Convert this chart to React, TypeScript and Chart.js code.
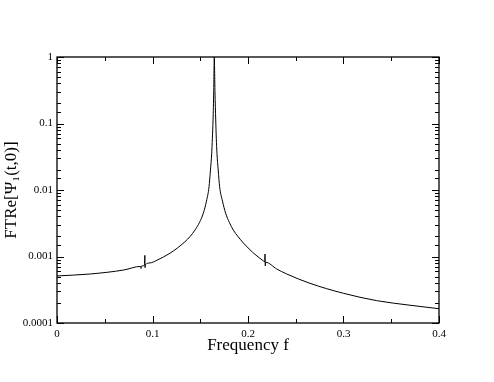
import React, { useEffect, useRef } from "react";
import { Chart, registerables } from "chart.js";

Chart.register(...registerables);

// Frequency values (f) and FT Re[Psi_1(t,0)]
const freq = [
  0, 0.035, 0.07, 0.0875, 0.088, 0.0885, 0.0915, 0.092, 0.0922, 0.0925,
  0.0974, 0.1047, 0.1183, 0.126, 0.134, 0.1395, 0.1445, 0.1492, 0.1532, 0.1565,
  0.1592, 0.1607, 0.162, 0.1627, 0.1634, 0.1641, 0.1647, 0.1654, 0.1662, 0.1668,
  0.1675, 0.1688, 0.1703, 0.1733, 0.1766, 0.1805, 0.1846, 0.1895, 0.1951, 0.205,
  0.216, 0.2175, 0.2178, 0.2181, 0.2185, 0.23, 0.2405, 0.2649, 0.2998, 0.3347,
  0.3696, 0.4,
];
const ftre = [
  0.00051, 0.000546, 0.000627, 0.00071, 0.00066, 0.00072, 0.00074, 0.00104, 0.00068, 0.00075,
  0.0008, 0.00088, 0.00112, 0.00134, 0.00167, 0.00201, 0.0025, 0.00325, 0.00447, 0.0068,
  0.0112, 0.02, 0.0356, 0.06, 0.113, 0.3, 1, 0.3, 0.113, 0.06,
  0.0356, 0.02, 0.0112, 0.0068, 0.00447, 0.00325, 0.0025, 0.002, 0.0016, 0.00115,
  0.00086, 0.00083, 0.00109, 0.00072, 0.00082, 0.00065, 0.000546, 0.000395, 0.00028, 0.000217,
  0.000185, 0.000164,
];

const xTickLabels = ["0", "0.1", "0.2", "0.3", "0.4"];
const yTickLabels = ["0.0001", "0.001", "0.01", "0.1", "1"];

const xTitle = "Frequency f";
const yTitle = "FTRe[Ψ\u2081(t,0)]";

const SERIF = "'Liberation Serif', 'DejaVu Serif', serif";

const isMajorX = (v: number) => Math.abs(v * 10 - Math.round(v * 10)) < 1e-6;
const isMajorY = (v: number) => {
  const l = Math.log10(v);
  return Math.abs(l - Math.round(l)) < 1e-6;
};

const frameTicks = {
  id: "frameTicks",
  afterDraw(chart: any) {
    const { ctx, chartArea } = chart;
    const { left, right, top, bottom } = chartArea;
    const x = chart.scales.x;
    const y = chart.scales.y;
    ctx.save();
    ctx.strokeStyle = "#000";
    ctx.lineWidth = 1;
    ctx.beginPath();
    x.ticks.forEach((t: any) => {
      const px = Math.round(x.getPixelForValue(t.value)) + 0.5;
      const len = isMajorX(t.value) ? 7 : 4;
      ctx.moveTo(px, bottom);
      ctx.lineTo(px, bottom - len);
      ctx.moveTo(px, top);
      ctx.lineTo(px, top + len);
    });
    y.ticks.forEach((t: any) => {
      const py = Math.round(y.getPixelForValue(t.value)) + 0.5;
      const len = isMajorY(t.value) ? 7 : 4;
      ctx.moveTo(left, py);
      ctx.lineTo(left + len, py);
      ctx.moveTo(right, py);
      ctx.lineTo(right - len, py);
    });
    ctx.stroke();
    ctx.lineWidth = 1.3;
    ctx.strokeRect(left, top, right - left, bottom - top);
    ctx.restore();
  },
};

export default function App() {
  const ref = useRef<HTMLCanvasElement | null>(null);

  useEffect(() => {
    if (!ref.current) return;
    const points = freq.map((f, i) => ({ x: f, y: ftre[i] }));
    const chart = new Chart(ref.current, {
      type: "line",
      data: {
        datasets: [
          {
            data: points,
            borderColor: "#000",
            borderWidth: 1,
            pointRadius: 0,
            cubicInterpolationMode: "monotone",
            fill: false,
          },
        ],
      },
      options: {
        animation: false,
        responsive: false,
        events: [],
        layout: { padding: { top: 57, right: 55, left: 0, bottom: 0 } },
        plugins: { legend: { display: false }, tooltip: { enabled: false } },
        scales: {
          x: {
            type: "linear",
            min: 0,
            max: 0.4,
            grid: { display: false, drawTicks: false },
            border: { display: false },
            ticks: {
              stepSize: 0.05,
              autoSkip: false,
              maxRotation: 0,
              padding: 5,
              color: "#000",
              font: { family: SERIF, size: 11 },
              callback: (v: any) =>
                isMajorX(Number(v)) ? xTickLabels[Math.round(Number(v) * 10)] : "",
            },
            title: {
              display: true,
              text: xTitle,
              color: "#000",
              font: { family: SERIF, size: 17 },
              padding: { top: 0, bottom: 26 },
            },
            afterFit: (s: any) => {
              s.height = 59;
            },
          },
          y: {
            type: "logarithmic",
            min: 0.0001,
            max: 1,
            grid: { display: false, drawTicks: false },
            border: { display: false },
            ticks: {
              autoSkip: false,
              padding: 4,
              color: "#000",
              font: { family: SERIF, size: 11 },
              callback: (v: any) => {
                const n = Number(v);
                if (!isMajorY(n)) return "";
                return yTickLabels[Math.round(Math.log10(n)) + 4];
              },
            },
            title: {
              display: true,
              text: yTitle,
              color: "#000",
              font: { family: SERIF, size: 17 },
              padding: { top: 1, bottom: 0 },
            },
            afterFit: (s: any) => {
              s.width = 57;
            },
          },
        },
      },
      plugins: [frameTicks],
    });
    return () => chart.destroy();
  }, []);

  return (
    <div style={{ position: "fixed", left: 0, top: 0, width: 494, height: 382, background: "#fff" }}>
      <canvas ref={ref} width={494} height={382} />
    </div>
  );
}
